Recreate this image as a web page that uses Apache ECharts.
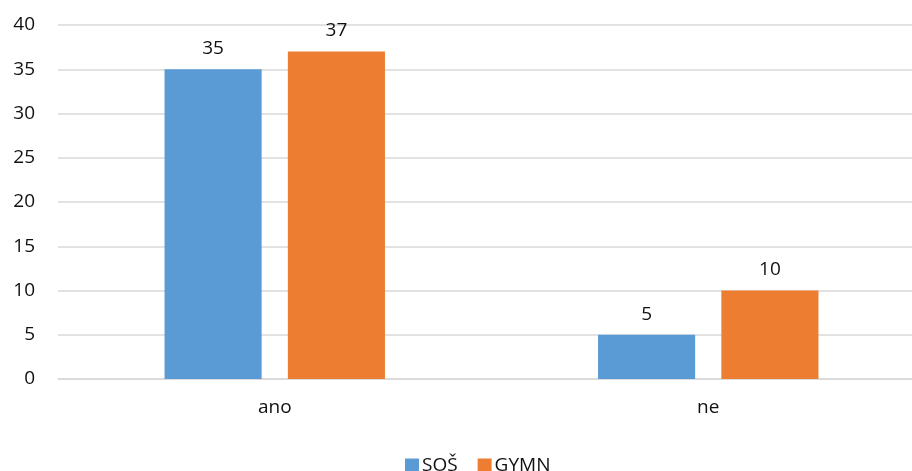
<!DOCTYPE html>
<html><head><meta charset="utf-8">
<script src="https://cdn.jsdelivr.net/npm/echarts@6/dist/echarts.min.js"></script>
<style>html,body{margin:0;padding:0;background:#fff;overflow:hidden;width:912px;height:471px}#c{width:925px;height:471px}</style>
</head><body><div id="c"></div>
<script>
const categories = ['ano', 'ne'];
const seriesNames = ['SOŠ', 'GYMN'];
const sosValues = [35, 5];
const gymnValues = [37, 10];
const yTicks = [0, 5, 10, 15, 20, 25, 30, 35, 40];

const font = '"Open Sans", "Noto Sans", sans-serif';
const txt = '#111';
const chart = echarts.init(document.getElementById('c'), null, {renderer: 'canvas'});
const labelStyle = {show: true, position: 'top', distance: 11, color: txt, fontSize: 19, fontFamily: font};
chart.setOption({
  animation: false,
  backgroundColor: '#fff',
  color: ['#5b9bd5', '#ed7d31'],
  grid: {left: 58, top: 25, right: 0, bottom: 92, containLabel: false},
  legend: {
    data: seriesNames, top: 451, left: 400, icon: 'rect',
    itemWidth: 14, itemHeight: 14, itemGap: 20,
    textStyle: {fontSize: 19, fontFamily: font, color: txt, padding: [0, 0, 0, -2]}
  },
  xAxis: {
    type: 'category', data: categories,
    axisLine: {lineStyle: {color: '#d9d9d9', width: 1.5}},
    axisTick: {show: false},
    axisLabel: {fontSize: 19, fontFamily: font, color: txt, margin: 19}
  },
  yAxis: {
    type: 'value', min: yTicks[0], max: yTicks[yTicks.length - 1], interval: 5,
    axisLine: {show: false}, axisTick: {show: false},
    splitLine: {lineStyle: {color: '#d9d9d9', width: 1.5}},
    axisLabel: {fontSize: 19, fontFamily: font, color: txt, margin: 23}
  },
  series: [
    {name: seriesNames[0], type: 'bar', data: sosValues, barWidth: '22.4%', barGap: '27%', label: labelStyle},
    {name: seriesNames[1], type: 'bar', data: gymnValues, barWidth: '22.4%', barGap: '27%', label: labelStyle}
  ]
});
</script></body></html>
